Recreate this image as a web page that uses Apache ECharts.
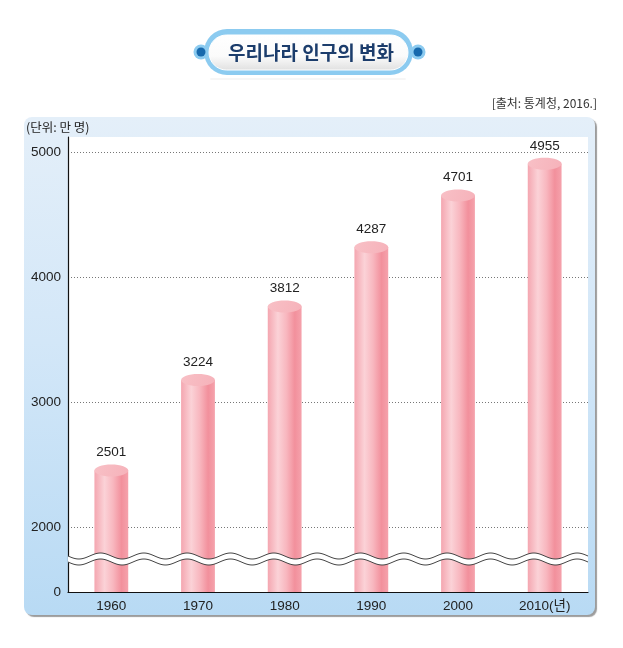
<!DOCTYPE html>
<html><head><meta charset="utf-8">
<script src="https://cdn.jsdelivr.net/npm/echarts@6/dist/echarts.min.js"></script>
<style>html,body{margin:0;padding:0;background:#fff}#c{width:623px;height:648px}</style>
</head><body><div id="c"></div>
<script>
const years = ['1960','1970','1980','1990','2000','2010(년)'];
const population = [2501, 3224, 3812, 4287, 4701, 4955];
const yTicks = [2000, 3000, 4000, 5000];
const axisBottom = 1480;   // value drawn at the "0" position below the break
const axisTop = 5120;
const breakValue = 1744;   // where the wavy break line sits

const FONT = '"Liberation Sans", "Noto Sans CJK KR", sans-serif';
const chart = echarts.init(document.getElementById('c'), null, {renderer:'canvas'});

const option = {
  animation: false,
  backgroundColor: '#fff',
  graphic: [
    {type:'rect', z:-10, shape:{x:24,y:117,width:571,height:498,r:8},
      style:{fill:new echarts.graphic.LinearGradient(0,0,0,1,[{offset:0,color:'#e4eff9'},{offset:0.45,color:'#d3e7f8'},{offset:1,color:'#b8daf4'}]),
        shadowColor:'rgba(90,90,90,0.6)', shadowOffsetX:2, shadowOffsetY:2, shadowBlur:1}},
    {type:'group', z:10, children:[
      {type:'rect', shape:{x:210,y:78,width:196,height:2,r:1}, style:{fill:'rgba(0,0,0,0.035)'}},
      {type:'circle', shape:{cx:201,cy:52,r:7.5}, style:{fill:'#8ccbf0'}},
      {type:'circle', shape:{cx:418,cy:52,r:7.5}, style:{fill:'#8ccbf0'}},
      {type:'rect', shape:{x:204,y:29,width:209,height:46,r:23}, style:{fill:'#8ccbf0'}},
      {type:'circle', shape:{cx:201,cy:52,r:4.5}, style:{fill:'#1769ad'}},
      {type:'circle', shape:{cx:418,cy:52,r:4.5}, style:{fill:'#1769ad'}},
      {type:'rect', shape:{x:209,y:35,width:199,height:35,r:17.5},
        style:{fill:new echarts.graphic.LinearGradient(0,0,0,1,[{offset:0,color:'#ffffff'},{offset:0.6,color:'#fbfbfb'},{offset:1,color:'#e0e0e0'}]), stroke:'#ffffff', lineWidth:1}},
      {type:'text', style:{x:311,y:53,text:'우리나라 인구의 변화', align:'center', verticalAlign:'middle',
        font:'bold 19px "Noto Sans CJK KR", sans-serif', fill:'#1c3d6c'}}
    ]},
    {type:'text', style:{x:597,y:103,text:'[출처: 통계청, 2016.]', align:'right', verticalAlign:'middle',
      font:'12px "Noto Sans CJK KR", sans-serif', fill:'#333'}},
    {type:'text', style:{x:26,y:127,text:'(단위: 만 명)', align:'left', verticalAlign:'middle',
      font:'12.5px "Noto Sans CJK KR", sans-serif', fill:'#222'}}
  ],
  grid: {left:68, right:35, top:137, bottom:56, show:true, backgroundColor:'#fff', borderWidth:0},
  xAxis: {
    type:'category', data:years,
    axisLine:{lineStyle:{color:'#111', width:1.2}},
    axisTick:{show:false},
    axisLabel:{color:'#222', fontSize:13.5, fontFamily:FONT, margin:8}
  },
  yAxis: {
    type:'value', min:axisBottom, max:axisTop,
    axisLine:{show:true, lineStyle:{color:'#111', width:1.2}},
    axisTick:{show:false, customValues:[axisBottom].concat(yTicks)},
    axisLabel:{customValues:[axisBottom].concat(yTicks), color:'#222', fontSize:13.5, fontFamily:FONT, margin:7,
      formatter: v => (v === axisBottom ? '0' : String(v))},
    splitLine:{show:true, lineStyle:{color:'#777', type:[1,2], width:1}}
  },
  series: [
    {
      type:'custom', z:5,
      data: population.map((v,i)=>[i,v]),
      renderItem: (params, api) => {
        const i = api.value(0), v = api.value(1);
        const top = api.coord([i, v]);
        const base = api.coord([i, axisBottom]);
        const w = api.size([1,0])[0]*0.39;
        const ry = 6;
        const x0 = top[0]-w/2;
        return {type:'group', children:[
          {type:'rect', shape:{x:x0, y:top[1]+ry, width:w, height:base[1]-top[1]-ry},
            style:{fill:new echarts.graphic.LinearGradient(0,0,1,0,[
              {offset:0,color:'#f4a6b0'},{offset:0.3,color:'#fbd2d7'},{offset:0.55,color:'#f8b7bf'},
              {offset:0.8,color:'#f2909c'},{offset:1,color:'#f5a2ac'}])}},
          {type:'ellipse', shape:{cx:top[0], cy:top[1]+ry, rx:w/2, ry:ry},
            style:{fill:new echarts.graphic.LinearGradient(0,0,1,1,[
              {offset:0,color:'#f8c0c6'},{offset:1,color:'#f6b2ba'}])}},
          {type:'text', style:{x:top[0], y:top[1]-5, text:String(v), align:'center', verticalAlign:'bottom',
            font:'13.5px '+FONT, fill:'#222'}}
        ]};
      }
    },
    {
      type:'custom', z:8, silent:true,
      data:[[0, breakValue]],
      renderItem: (params, api) => {
        const cs = params.coordSys;
        const cy = api.coord([0, api.value(1)])[1];
        const period = cs.width/12, amp = 3, gap = 3;
        const up = [], lo = [];
        for (let x = 0; x <= cs.width; x += 1) {
          const yy = Math.sin(x/period*2*Math.PI)*amp;
          up.push([cs.x+x, cy+yy-gap]);
          lo.push([cs.x+x, cy+yy+gap]);
        }
        return {type:'group', children:[
          {type:'polygon', shape:{points:up.concat(lo.slice().reverse())}, style:{fill:'#fff', stroke:null}},
          {type:'polyline', shape:{points:up}, style:{stroke:'#444', lineWidth:1, fill:null}},
          {type:'polyline', shape:{points:lo}, style:{stroke:'#444', lineWidth:1, fill:null}}
        ]};
      }
    }
  ]
};
chart.setOption(option);
</script></body></html>
